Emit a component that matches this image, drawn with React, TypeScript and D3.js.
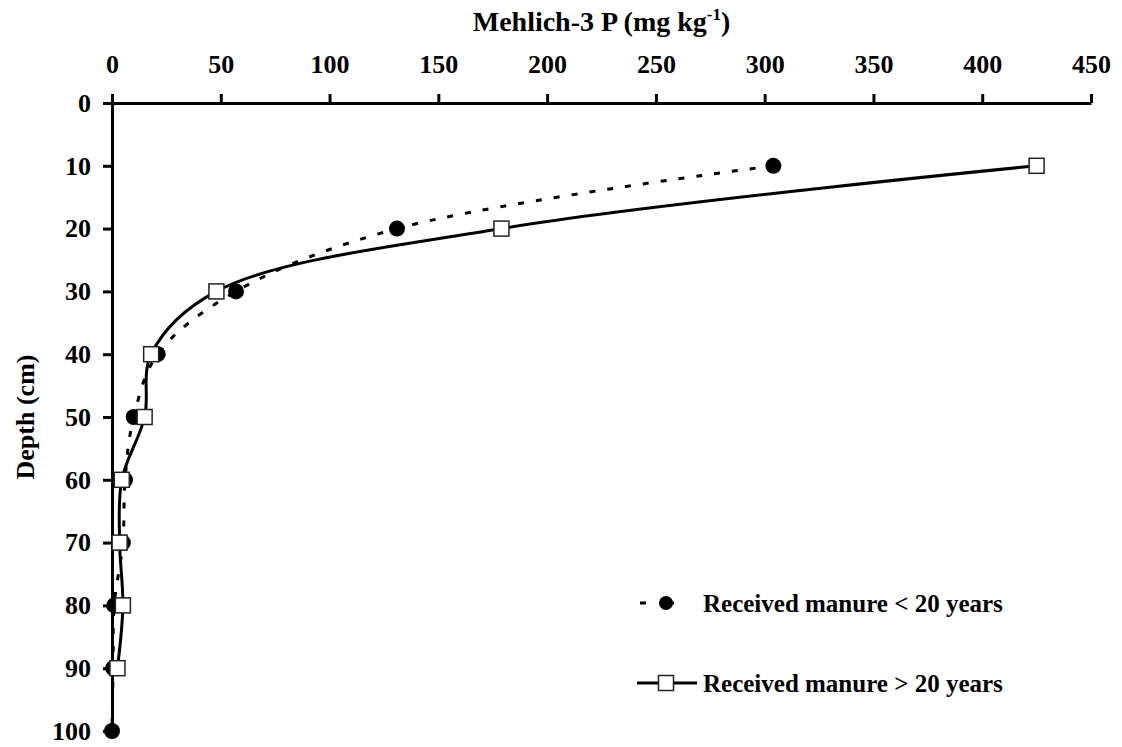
import React, { useEffect, useRef } from "react";
import * as d3 from "d3";

// depth (cm) and Mehlich-3 P (mg/kg)
const depthsLt20 = [10, 20, 30, 40, 50, 60, 70, 80, 90, 100];
const pLt20 = [304, 131, 57, 21, 10, 6, 5, 1, 0.5, 0];
const depthsGt20 = [10, 20, 30, 40, 50, 60, 70, 80, 90];
const pGt20 = [425, 179, 48, 18, 15, 4.5, 3.5, 5, 2.5];

const xTicks = [0, 50, 100, 150, 200, 250, 300, 350, 400, 450];
const yTicks = [0, 10, 20, 30, 40, 50, 60, 70, 80, 90, 100];
const seriesNames = ["Received manure < 20 years", "Received manure > 20 years"];

const FONT = "'Liberation Serif', 'Times New Roman', serif";

const App = () => {
  const svgRef = useRef<SVGSVGElement>(null);

  useEffect(() => {
    document.body.style.margin = "0";
    const svg = d3.select(svgRef.current);
    svg.selectAll("*").remove();

    const width = 1122;
    const height = 747;
    const margin = { top: 103, right: 31, bottom: 16, left: 112 };

    const x = d3
      .scaleLinear()
      .domain([0, 450])
      .range([margin.left, width - margin.right]);
    const y = d3
      .scaleLinear()
      .domain([0, 100])
      .range([margin.top, height - margin.bottom]);

    svg.attr("font-family", FONT).attr("font-weight", "bold");

    // top axis
    const xAxis = svg
      .append("g")
      .attr("transform", `translate(0,${margin.top})`)
      .call(d3.axisTop(x).tickValues(xTicks).tickSize(9).tickPadding(21).tickSizeOuter(0));
    xAxis.select(".domain").attr("stroke-width", 3);
    xAxis.selectAll(".tick line").attr("stroke-width", 3);
    xAxis.selectAll(".tick text").attr("font-size", 26).attr("font-family", FONT);

    // left axis
    const yAxis = svg
      .append("g")
      .attr("transform", `translate(${margin.left},0)`)
      .call(d3.axisLeft(y).tickValues(yTicks).tickSize(9).tickPadding(12).tickSizeOuter(0));
    yAxis.select(".domain").attr("stroke-width", 3);
    yAxis.selectAll(".tick line").attr("stroke-width", 3);
    yAxis.selectAll(".tick text").attr("font-size", 26).attr("font-family", FONT);

    // titles
    const title = svg
      .append("text")
      .attr("x", (x(0) + x(450)) / 2)
      .attr("y", 31)
      .attr("text-anchor", "middle")
      .attr("font-size", 28);
    title.append("tspan").text("Mehlich-3 P (mg kg");
    title.append("tspan").attr("dy", -11).attr("font-size", 17).text("-1");
    title.append("tspan").attr("dy", 11).text(")");

    svg
      .append("text")
      .attr("transform", `translate(34,${(y(0) + y(100)) / 2}) rotate(-90)`)
      .attr("text-anchor", "middle")
      .attr("font-size", 26)
      .text("Depth (cm)");

    const line = d3
      .line<[number, number]>()
      .x((d) => x(d[0]))
      .y((d) => y(d[1]))
      .curve(d3.curveCatmullRom.alpha(0.5));

    const lt: [number, number][] = pLt20.map((p, i) => [p, depthsLt20[i]]);
    const gt: [number, number][] = pGt20.map((p, i) => [p, depthsGt20[i]]);

    // series 1: dashed + filled circles
    svg
      .append("path")
      .attr("d", line(lt))
      .attr("fill", "none")
      .attr("stroke", "#000")
      .attr("stroke-width", 3)
      .attr("stroke-dasharray", "6,12");
    svg
      .append("g")
      .selectAll("circle")
      .data(lt)
      .join("circle")
      .attr("cx", (d) => x(d[0]))
      .attr("cy", (d) => y(d[1]))
      .attr("r", 8)
      .attr("fill", "#000");

    // series 2: solid + open squares
    svg
      .append("path")
      .attr("d", line(gt))
      .attr("fill", "none")
      .attr("stroke", "#000")
      .attr("stroke-width", 3);
    svg
      .append("g")
      .selectAll("rect")
      .data(gt)
      .join("rect")
      .attr("x", (d) => x(d[0]) - 7.5)
      .attr("y", (d) => y(d[1]) - 7.5)
      .attr("width", 15)
      .attr("height", 15)
      .attr("fill", "#fff")
      .attr("stroke", "#222")
      .attr("stroke-width", 1.5);

    // legend
    const lg = svg.append("g").attr("transform", "translate(637,0)");
    const ly1 = 603;
    const ly2 = 683;
    lg.append("line")
      .attr("x1", 3).attr("x2", 9).attr("y1", ly1).attr("y2", ly1)
      .attr("stroke", "#000").attr("stroke-width", 3);
    lg.append("line")
      .attr("x1", 29).attr("x2", 37).attr("y1", ly1).attr("y2", ly1)
      .attr("stroke", "#000").attr("stroke-width", 3);
    lg.append("circle").attr("cx", 29).attr("cy", ly1).attr("r", 7).attr("fill", "#000");
    lg.append("text")
      .attr("x", 66).attr("y", ly1).attr("dy", "0.35em")
      .attr("font-size", 25).text(seriesNames[0]);

    lg.append("line")
      .attr("x1", 0).attr("x2", 60).attr("y1", ly2).attr("y2", ly2)
      .attr("stroke", "#000").attr("stroke-width", 3);
    lg.append("rect")
      .attr("x", 29 - 7.5).attr("y", ly2 - 7.5).attr("width", 15).attr("height", 15)
      .attr("fill", "#fff").attr("stroke", "#222").attr("stroke-width", 1.5);
    lg.append("text")
      .attr("x", 66).attr("y", ly2).attr("dy", "0.35em")
      .attr("font-size", 25).text(seriesNames[1]);
  }, []);

  return <svg ref={svgRef} width={1122} height={747} style={{ display: "block" }}></svg>;
};

export default App;
